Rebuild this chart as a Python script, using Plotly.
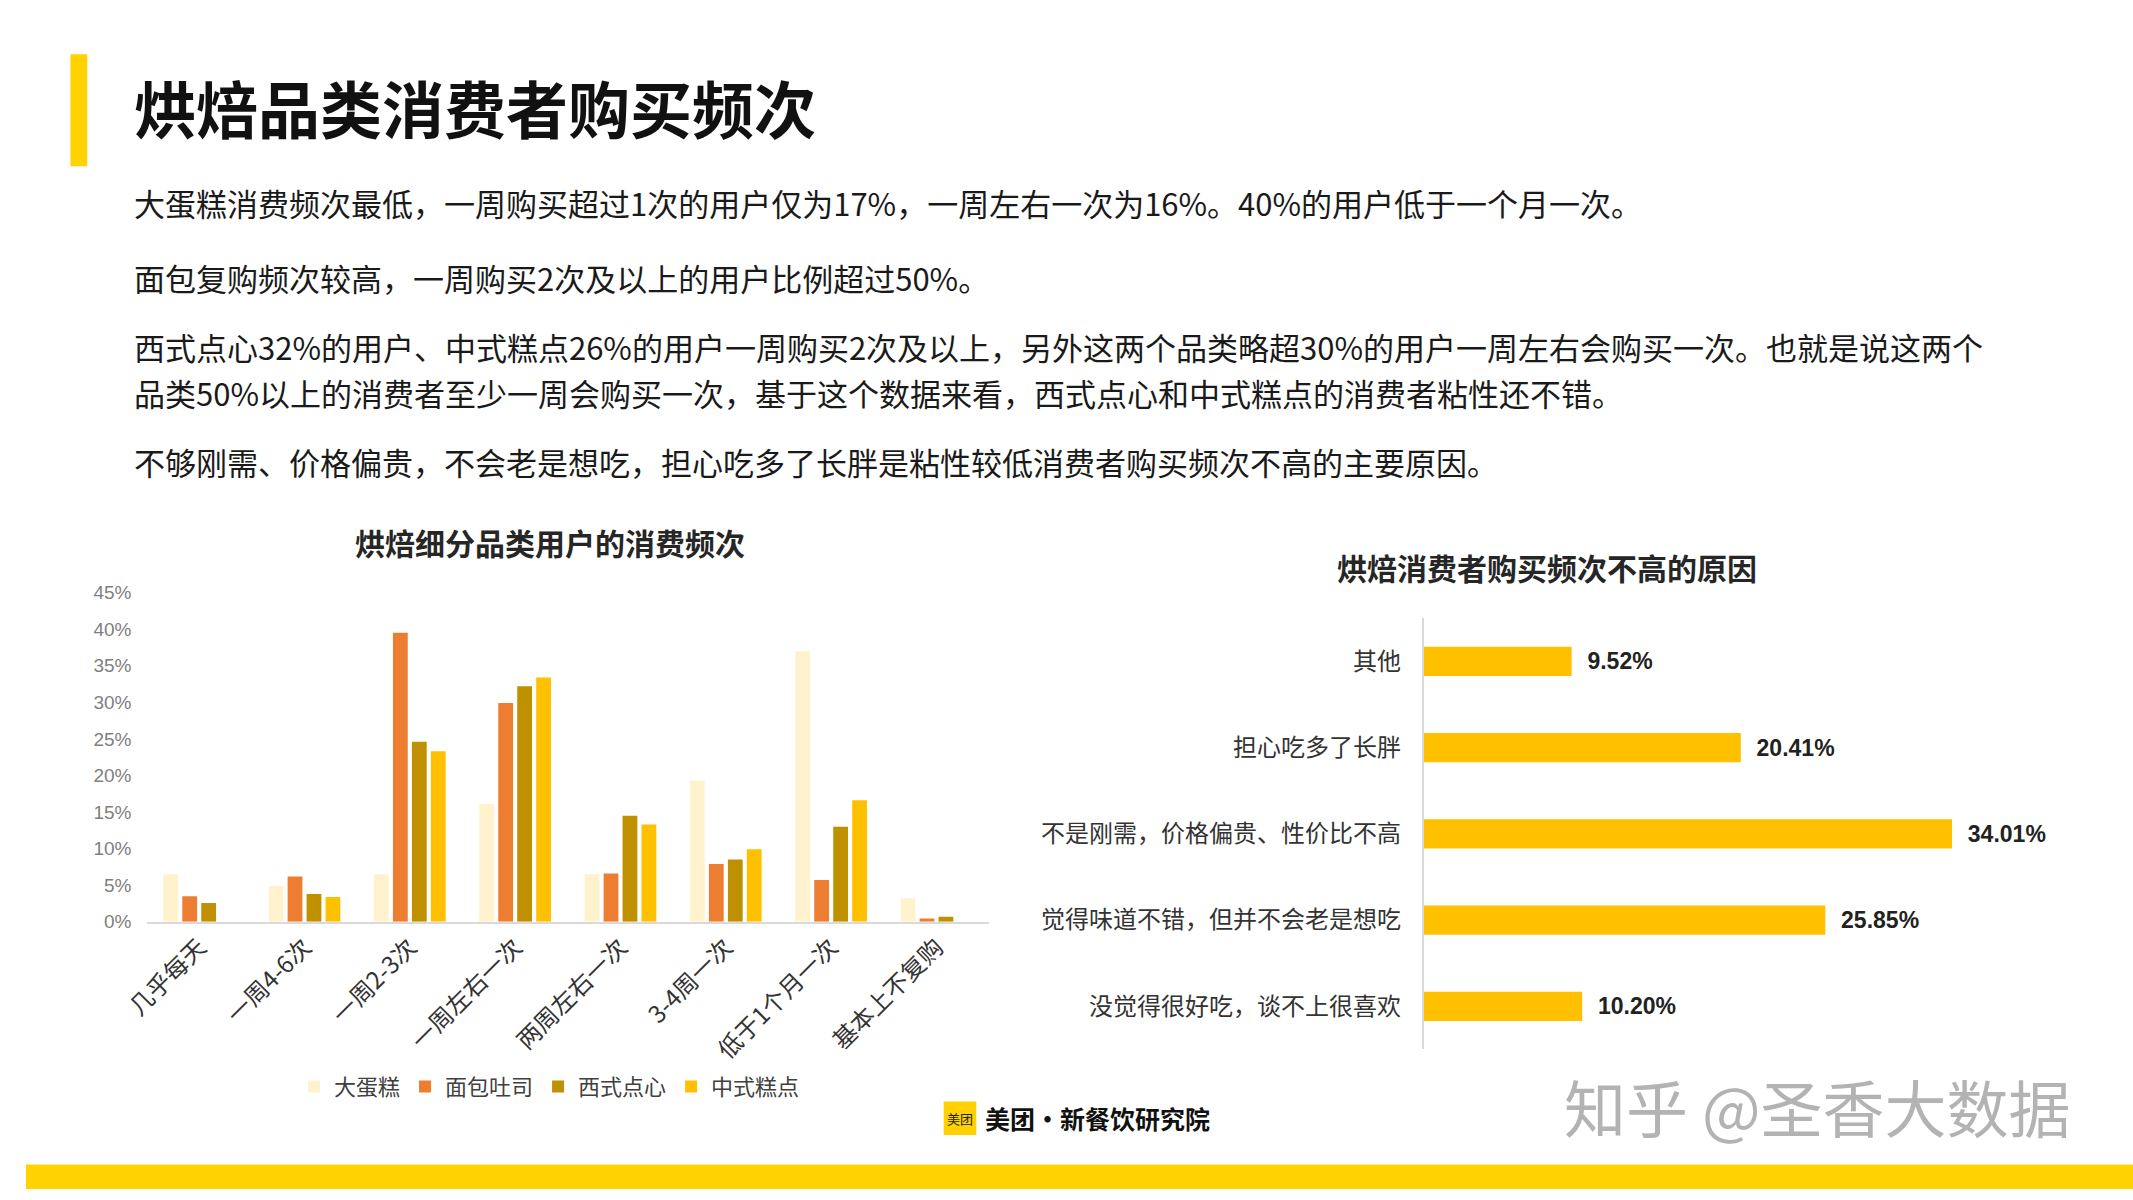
import plotly.graph_objects as go

W, H = 2133, 1200

# ---------------- data ----------------
freq_categories = ["几乎每天", "一周4-6次", "一周2-3次", "一周左右一次",
                   "两周左右一次", "3-4周一次", "低于1个月一次", "基本上不复购"]
cake = [6.5, 4.9, 6.5, 16.1, 6.5, 19.3, 37.0, 3.2]
bread = [3.5, 6.2, 39.5, 29.9, 6.6, 7.9, 5.7, 0.45]
western = [2.55, 3.8, 24.6, 32.2, 14.5, 8.5, 13.0, 0.7]
chinese = [0.0, 3.4, 23.3, 33.4, 13.3, 9.9, 16.6, 0.0]
series_names = ["大蛋糕", "面包吐司", "西式点心", "中式糕点"]
series_colors = ["#FFF2CC", "#ED7D31", "#BF9000", "#FFC000"]

reasons = ["其他", "担心吃多了长胖", "不是刚需，价格偏贵、性价比不高",
           "觉得味道不错，但并不会老是想吃", "没觉得很好吃，谈不上很喜欢"]
reason_values = [9.52, 20.41, 34.01, 25.85, 10.20]

main_title = "烘焙品类消费者购买频次"
body_lines = [
    "大蛋糕消费频次最低，一周购买超过1次的用户仅为17%，一周左右一次为16%。40%的用户低于一个月一次。",
    "面包复购频次较高，一周购买2次及以上的用户比例超过50%。",
    "西式点心32%的用户、中式糕点26%的用户一周购买2次及以上，另外这两个品类略超30%的用户一周左右会购买一次。也就是说这两个",
    "品类50%以上的消费者至少一周会购买一次，基于这个数据来看，西式点心和中式糕点的消费者粘性还不错。",
    "不够刚需、价格偏贵，不会老是想吃，担心吃多了长胖是粘性较低消费者购买频次不高的主要原因。",
]
body_y = [196, 272, 343, 389, 460]
left_title = "烘焙细分品类用户的消费频次"
right_title = "烘焙消费者购买频次不高的原因"

CJK = "Noto Sans CJK SC, Noto Sans, sans-serif"
NARROW = "Liberation Sans Narrow, Arial Narrow, Liberation Sans, Noto Sans CJK SC, sans-serif"


def px(x):
    return x / W


def py(y):
    return 1 - y / H


fig = go.Figure()

for name, vals, col in zip(series_names, [cake, bread, western, chinese], series_colors):
    fig.add_trace(go.Bar(x=freq_categories, y=vals, name=name, marker_color=col,
                         marker_line_width=0, xaxis="x", yaxis="y", showlegend=True))

fig.add_trace(go.Bar(x=reason_values, y=reasons, orientation="h", marker_color="#FFC000",
                     marker_line_width=0, xaxis="x2", yaxis="y2", showlegend=False, width=0.34,
                     text=[f"\u00a0\u00a0{v:.2f}%" for v in reason_values], textposition="outside",
                     textfont=dict(family=NARROW, size=23, color="#222222", weight=700),
                     cliponaxis=False))

fig.update_layout(
    width=W, height=H, margin=dict(l=0, r=0, t=0, b=0),
    paper_bgcolor="white", plot_bgcolor="white",
    barmode="group", bargap=0.28, bargroupgap=0.22,
    font=dict(family=CJK, color="#333333"),
    xaxis=dict(domain=[px(122), px(975)], showline=True, linecolor="#D9D9D9", linewidth=2,
               ticks="", tickangle=-45, tickfont=dict(family=CJK, size=24, color="#333333"),
               showgrid=False, zeroline=False, fixedrange=True),
    yaxis=dict(domain=[py(928), py(593)], range=[0, 45], dtick=5, ticksuffix="%",
               showgrid=False, zeroline=False, showline=False, ticks="",
               tickfont=dict(family=NARROW, size=19, color="#7F7F7F"), ticklabelstandoff=14),
    xaxis2=dict(domain=[px(1415), px(2044)], range=[0, 40], visible=False, anchor="y2"),
    yaxis2=dict(domain=[py(1058), py(619)], anchor="x2", autorange="reversed",
                showline=True, linecolor="#D9D9D9", linewidth=2, ticks="", showgrid=False,
                tickfont=dict(family=CJK, size=24, color="#333333"), ticklabelstandoff=16),
    legend=dict(orientation="h", x=px(530), xanchor="center", y=py(1096), yanchor="middle",
                font=dict(family=CJK, size=22, color="#404040"), itemwidth=30,
                traceorder="normal", bgcolor="rgba(0,0,0,0)"),
)

shapes = [
    dict(type="rect", xref="paper", yref="paper", x0=px(45), x1=px(62), y0=py(159), y1=py(45),
         fillcolor="#FFD200", line_width=0),
    dict(type="rect", xref="paper", yref="paper", x0=0, x1=1, y0=0, y1=py(1175),
         fillcolor="#FFD200", line_width=0),
    dict(type="rect", xref="paper", yref="paper", x0=px(929), x1=px(962), y0=py(1145), y1=py(1111),
         fillcolor="#FFD100", line_width=0),
]
fig.update_layout(shapes=shapes)

ann = []
ann.append(dict(text=f"<b>{main_title}</b>", x=px(107), y=py(99), xanchor="left", yanchor="middle",
                font=dict(family=CJK, size=62, color="#111111")))
for t, y in zip(body_lines, body_y):
    ann.append(dict(text=t, x=px(107), y=py(y), xanchor="left", yanchor="middle", align="left",
                    font=dict(family=CJK, size=31, color="#1A1A1A")))
ann.append(dict(text=f"<b>{left_title}</b>", x=px(530), y=py(541), xanchor="center", yanchor="middle",
                font=dict(family=CJK, size=30, color="#262626")))
ann.append(dict(text=f"<b>{right_title}</b>", x=px(1540), y=py(567), xanchor="center", yanchor="middle",
                font=dict(family=CJK, size=30, color="#262626")))
# logo
ann.append(dict(text="美团", x=px(945.5), y=py(1128), xanchor="center", yanchor="middle",
                font=dict(family=CJK, size=13, color="#222222")))
ann.append(dict(text="<b>美团·新餐饮研究院</b>", x=px(969), y=py(1128), xanchor="left", yanchor="middle",
                font=dict(family=CJK, size=25, color="#111111")))
# watermark
ann.append(dict(text="知乎 @圣香大数据", x=px(1555), y=py(1116), xanchor="left", yanchor="middle",
                font=dict(family=CJK, size=62, color="#B3B3B3")))
for a in ann:
    a.update(xref="paper", yref="paper", showarrow=False)
fig.update_layout(annotations=ann)

fig.write_html("out.html")
